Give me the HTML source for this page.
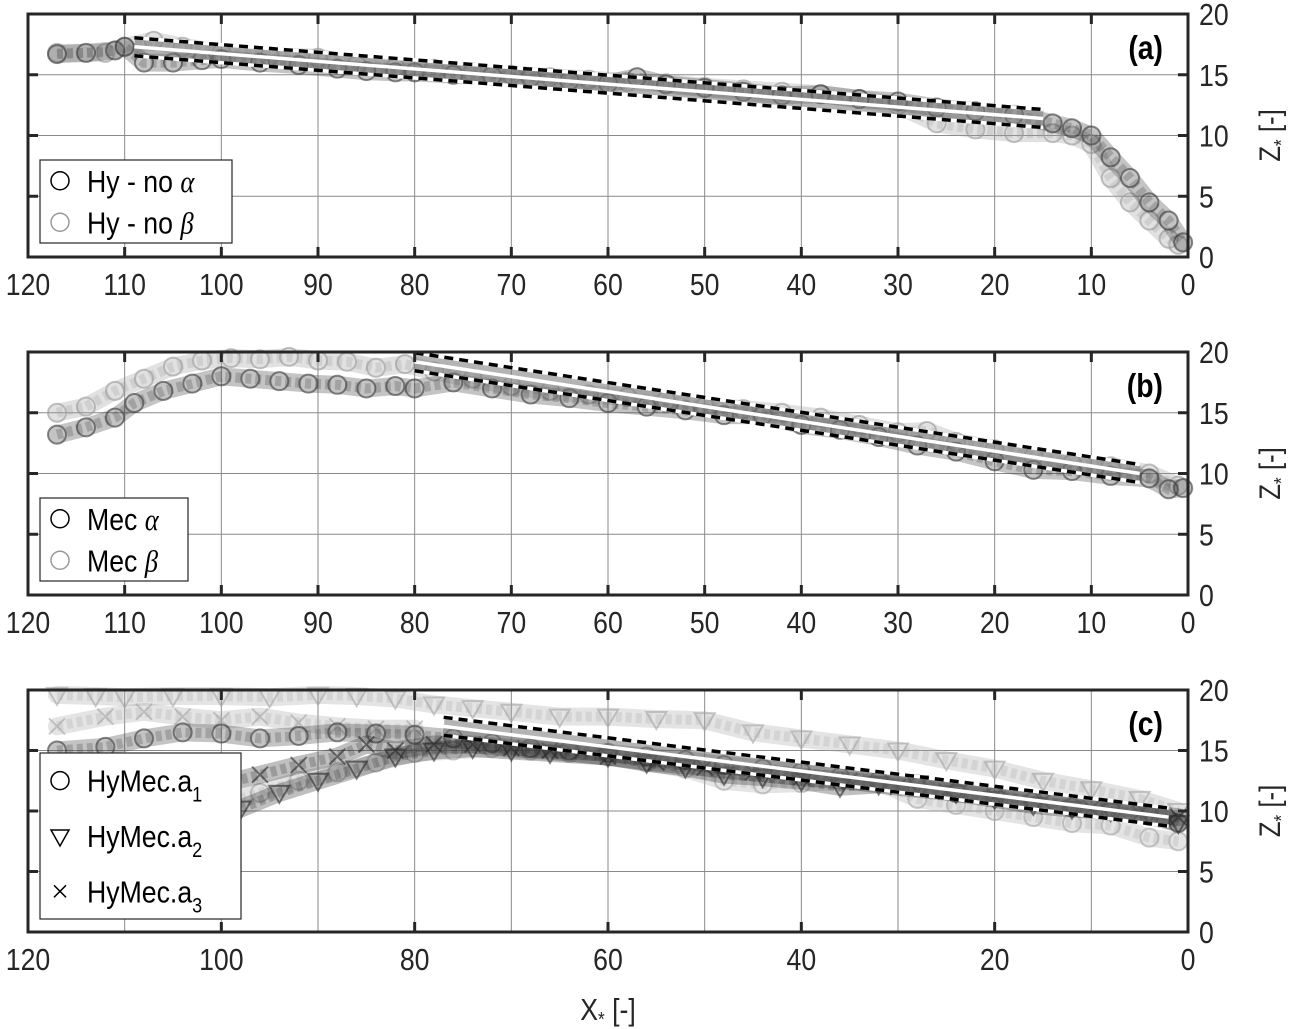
<!DOCTYPE html>
<html><head><meta charset="utf-8"><style>
html,body{margin:0;padding:0;background:#fff;}
svg{display:block;font-family:"Liberation Sans",Arial,sans-serif;}
</style></head><body>
<svg id="chart" width="1289" height="1029" viewBox="0 0 1289 1029" xmlns="http://www.w3.org/2000/svg">
</svg>
<script>
// ---- data ----
const xTicksAB = [120,110,100,90,80,70,60,50,40,30,20,10,0];
const xTicksC = [120,100,80,60,40,20,0];
const yTicks = [0,5,10,15,20];
// panel a
const aAlphaX = [117,114,111,110,108,105,102,100,96,92,88,85,82,80,76,72,68,64,60,57,54,50,46,42,38,34,30,26,22,18,14,12,10,8,6,4,2,0.5];
const aAlphaZ = [16.7,16.8,17.0,17.3,16.0,16.0,16.2,16.3,16.0,15.8,15.5,15.3,15.2,15.2,15.0,14.9,14.8,14.5,14.3,14.8,14.2,13.9,13.6,13.3,13.4,13.0,12.8,12.3,12.0,11.7,11.0,10.6,10.0,8.2,6.5,4.5,3.0,1.2];
const aBetaX = [117,112,110,107,104,100,95,90,86,82,78,74,70,66,62,58,54,50,46,42,38,34,30,26,22,18,14,12,10,8,6,4,2,1];
const aBetaZ = [16.8,16.8,17.3,17.8,17.3,16.8,16.5,16.4,15.8,15.6,15.5,15.2,15.0,14.8,14.6,14.4,14.3,14.0,13.8,13.6,13.4,13.0,12.5,11.0,10.5,10.2,10.2,10.0,9.3,6.5,4.5,3.0,1.5,1.0];
const aFitX = [109,15];
const aFitZ = [17.3,11.4];
// panel b
const bAlphaX = [117,114,111,109,106,103,100,97,94,91,88,85,82,80,76,72,68,64,60,56,52,48,44,40,36,32,28,24,20,16,12,8,4,2,0.5];
const bAlphaZ = [13.2,13.8,14.6,15.8,16.8,17.4,18.0,17.8,17.6,17.4,17.3,17.0,17.2,17.0,17.5,17.0,16.5,16.2,15.8,15.5,15.2,14.8,14.8,14.0,13.6,13.0,12.3,11.8,11.0,10.3,10.2,9.8,9.6,8.7,8.8];
const bBetaX = [117,114,111,108,105,102,99,96,93,90,87,84,81,78,74,70,66,62,58,54,50,46,42,38,34,30,27,24,20,16,12,8,4,1];
const bBetaZ = [15.0,15.5,16.8,17.8,18.8,19.3,19.5,19.4,19.6,19.3,19.2,18.7,19.0,18.4,17.8,17.2,16.8,16.5,16.3,16.0,15.5,15.3,15.0,14.6,14.0,13.4,13.5,12.6,12.0,11.4,10.8,10.6,10.0,9.0];
const bFitX = [80,5];
const bFitZ = [19.2,10.0];
// panel c
const cA1X = [117,112,108,104,100,96,92,88,84,80,76,72,68,64,60,56,52,48,44,40,36,32,28,24,20,16,12,8,4,1];
const cA1Z = [15.0,15.3,16.0,16.5,16.4,16.0,16.2,16.5,16.4,16.3,16.0,15.6,15.2,15.0,14.8,14.5,14.2,13.8,13.5,13.2,12.8,12.5,12.0,11.5,11.2,10.8,10.3,10.0,9.6,9.0];
const cA1bX = [100,96,92,88,84,80,76,72,68,64,60,56,52,48,44,40,36,32,28,24,20,16,12,8,4,1];
const cA1bZ = [10.5,11.5,12.5,13.2,14.0,14.8,15.0,15.2,15.0,14.8,14.5,14.0,13.5,12.5,12.2,12.3,12.5,12.4,11.0,10.5,10.0,9.5,9.0,8.8,7.8,7.5];
const cA2X = [117,113,110,105,100,95,90,86,82,78,74,70,65,60,55,50,45,40,35,30,25,20,15,10,5,1];
const cA2Z = [19.6,19.5,19.4,19.5,19.5,19.4,19.6,19.5,19.3,18.8,18.5,18.2,17.8,17.8,17.6,17.5,16.5,16.0,15.5,15.0,14.2,13.5,12.5,11.8,11.0,10.0];
const cA2bX = [103,98,94,90,86,82,78,74,70,66,60,56,52,48,44,40,36,32,28,24,20,16,12,8,4,1];
const cA2bZ = [9.0,10.2,11.5,12.5,13.5,14.5,15.0,15.2,15.0,14.8,14.5,14.0,13.6,13.0,12.8,12.5,12.0,12.2,12.3,11.5,11.0,10.5,10.2,10.0,9.8,9.0];
const cA3X = [117,112,108,104,100,96,92,88,84,80];
const cA3Z = [17.0,17.8,18.2,17.8,17.5,17.8,17.3,17.0,16.8,16.8];
const cA3bX = [105,100,96,92,88,85,82,78,74,70,66,60,55,50,45,40,35,30,25,20,15,10,5,1];
const cA3bZ = [11.5,12.2,13.0,13.8,14.5,15.5,15.0,15.5,15.5,15.2,15.0,14.5,14.0,13.6,13.2,12.8,12.5,12.0,11.6,11.2,10.8,10.2,9.8,9.5];
const cFitX = [77,2];
const cFitZ = [17.0,9.5];

// ---- layout ----
const NS = "http://www.w3.org/2000/svg";
const svg = document.getElementById('chart');
const L = 28, R = 1188;
const panels = [
  {top:14, bot:257, label:'(a)', ticks:xTicksAB, grid:[110,100,90,80,70,60,50,40,30,20,10]},
  {top:352, bot:595, label:'(b)', ticks:xTicksAB, grid:[110,100,90,80,70,60,50,40,30,20,10]},
  {top:690, bot:932, label:'(c)', ticks:xTicksC, grid:[110,100,90,80,70,60,50,40,30,20,10]}
];
function sx(x){ return R - (R - L) * x / 120; }
function syF(p){ return z => p.bot - (p.bot - p.top) * z / 20; }
function mk(tag, attrs, parent){
  const e = document.createElementNS(NS, tag);
  for (const k in attrs) e.setAttribute(k, attrs[k]);
  (parent || svg).appendChild(e);
  return e;
}
function ntext(x, y, size, anchor, parent, extra){
  const a = {x:0, y:0, 'font-size':size, 'text-anchor':anchor, fill:'#262626', transform:'translate('+x+','+y+') scale(0.86,1)'};
  if (extra) for (const k in extra) a[k] = extra[k];
  return mk('text', a, parent);
}

function drawAxes(p, i){
  const g = mk('g', {});
  
  
  const sy = syF(p);
  p.grid.forEach(v => {
    const gl = mk('line', {x1:sx(v), x2:sx(v), y1:p.top, y2:p.bot, stroke:'#8a8a8a', 'stroke-width':1}, g);
    
    
  });
  [5,10,15].forEach(v => {
    const gl = mk('line', {x1:L, x2:R, y1:sy(v), y2:sy(v), stroke:'#8a8a8a', 'stroke-width':1}, g);
    
    
  });
  return g;
}
function drawFrame(p, i){
  const sy = syF(p);
  const g = mk('g', {});
  
  
  mk('rect', {x:L, y:p.top, width:R-L, height:p.bot-p.top, fill:'none', stroke:'#262626', 'stroke-width':3}, g);
  p.ticks.forEach(v => {
    const x = sx(v);
    mk('line', {x1:x, x2:x, y1:p.bot, y2:p.bot-10, stroke:'#262626', 'stroke-width':3}, g);
    mk('line', {x1:x, x2:x, y1:p.top, y2:p.top+10, stroke:'#262626', 'stroke-width':3}, g);
    const t = ntext(x, p.bot+38, 31, 'middle', g);
    t.textContent = v;
    
    
  });
  yTicks.forEach(v => {
    const y = sy(v);
    mk('line', {x1:R, x2:R-10, y1:y, y2:y, stroke:'#262626', 'stroke-width':3}, g);
    mk('line', {x1:L, x2:L+10, y1:y, y2:y, stroke:'#262626', 'stroke-width':3}, g);
    const t = ntext(1199, y+11, 31, 'start', g);
    t.textContent = v;
    
    
  });
  const cy = (p.top + p.bot) / 2;
  const yl = mk('text', {x:0, y:0, 'font-size':30, fill:'#262626', 'text-anchor':'middle', transform:'translate(1280,'+cy+') rotate(-90) scale(0.86,1)'}, g);
  yl.innerHTML = 'Z<tspan font-size="20" dy="8">*</tspan><tspan dy="-8"> [-]</tspan>';
  
  
  const pl = ntext(1163, p.top+45, 33, 'end', g, {'font-weight':'bold', fill:'#000'});
  pl.textContent = p.label;
  
  
}

function marker(type, x, y, col, g){
  if (type === 'o') return mk('circle', {cx:x, cy:y, r:9, fill:'none', stroke:col, 'stroke-width':2, 'stroke-opacity':0.6}, g);
  if (type === 'v') return mk('path', {d:'M'+(x-10)+','+(y-7)+' L'+(x+10)+','+(y-7)+' L'+x+','+(y+10)+' Z', fill:'none', stroke:col, 'stroke-width':2, 'stroke-opacity':0.6}, g);
  return mk('path', {d:'M'+(x-8)+','+(y-8)+' L'+(x+8)+','+(y+8)+' M'+(x+8)+','+(y-8)+' L'+(x-8)+','+(y+8), stroke:col, 'stroke-width':2, 'stroke-opacity':0.6}, g);
}
function series(p, xs, zs, type, col, name){
  const sy = syF(p);
  const g = mk('g', {});
  
  
  const pts = xs.map((x,i) => sx(x)+','+sy(zs[i])).join(' ');
  mk('polyline', {points:pts, fill:'none', stroke:col, 'stroke-width':18, 'stroke-opacity':0.3, 'stroke-linejoin':'round', 'stroke-linecap':'round'}, g);
  mk('polyline', {points:pts, fill:'none', stroke:col, 'stroke-width':10, 'stroke-opacity':0.25, 'stroke-dasharray':'6 4'}, g);
  xs.forEach((x,i) => {
    const m = marker(type, sx(x), sy(zs[i]), col, g);
    
    
  });
}
function fit(p, fx, fz, name){
  const sy = syF(p);
  const g = mk('g', {});
  
  
  const x1 = sx(fx[0]), x2 = sx(fx[1]), y1 = sy(fz[0]), y2 = sy(fz[1]);
  mk('line', {x1, x2, y1, y2, stroke:'#777', 'stroke-width':16, 'stroke-opacity':0.55}, g);
  mk('line', {x1, x2, y1, y2, stroke:'#fff', 'stroke-width':3.5}, g);
  [-9, 9].forEach(d => {
    mk('line', {x1, x2, y1:y1+d, y2:y2+d, stroke:'#fff', 'stroke-width':3.5}, g);
    mk('line', {x1, x2, y1:y1+d, y2:y2+d, stroke:'#000', 'stroke-width':3.5, 'stroke-dasharray':'9 6'}, g);
  });
}
function legend(x, y, w, h, entries, i){
  const g = mk('g', {});
  
  
  mk('rect', {x, y, width:w, height:h, fill:'#fff', stroke:'#262626', 'stroke-width':1.2}, g);
  const step = h / entries.length;
  entries.forEach((e, k) => {
    const cy = y + step*(k+0.5);
    const eg = mk('g', {}, g);
    
    
    if (e.t === 'o') mk('circle', {cx:x+20, cy:cy, r:9, fill:'none', stroke:e.c, 'stroke-width':1.5}, eg);
    else if (e.t === 'v') mk('path', {d:'M'+(x+11)+','+(cy-6)+' L'+(x+29)+','+(cy-6)+' L'+(x+20)+','+(cy+10)+' Z', fill:'none', stroke:e.c, 'stroke-width':1.5}, eg);
    else mk('path', {d:'M'+(x+14)+','+(cy-6)+' L'+(x+26)+','+(cy+6)+' M'+(x+26)+','+(cy-6)+' L'+(x+14)+','+(cy+6), stroke:e.c, 'stroke-width':1.5}, eg);
    const t = ntext(x+47, cy+11, 31, 'start', eg, {fill:'#000'});
    t.innerHTML = e.html;
  });
}

// panel a
let p = panels[0];
drawAxes(p, 0);
series(p, aBetaX, aBetaZ, 'o', '#9a9a9a', 'series-hy-no-beta');
series(p, aAlphaX, aAlphaZ, 'o', '#3a3a3a', 'series-hy-no-alpha');
fit(p, aFitX, aFitZ, 'fit-line-a');
drawFrame(p, 0);
legend(40, 160, 192, 83, [
  {t:'o', c:'#000', html:'Hy - no <tspan font-family="Liberation Serif" font-style="italic">α</tspan>'},
  {t:'o', c:'#999', html:'Hy - no <tspan font-family="Liberation Serif" font-style="italic">β</tspan>'}], 0);

// panel b
p = panels[1];
drawAxes(p, 1);
series(p, bBetaX, bBetaZ, 'o', '#9a9a9a', 'series-mec-beta');
series(p, bAlphaX, bAlphaZ, 'o', '#3a3a3a', 'series-mec-alpha');
fit(p, bFitX, bFitZ, 'fit-line-b');
drawFrame(p, 1);
legend(40, 498, 148, 83, [
  {t:'o', c:'#000', html:'Mec <tspan font-family="Liberation Serif" font-style="italic">α</tspan>'},
  {t:'o', c:'#999', html:'Mec <tspan font-family="Liberation Serif" font-style="italic">β</tspan>'}], 1);

// panel c
p = panels[2];
drawAxes(p, 2);
series(p, cA2X, cA2Z, 'v', '#a5a5a5', 'series-hymec-a2-light');
series(p, cA3X, cA3Z, 'x', '#a5a5a5', 'series-hymec-a3-light');
series(p, cA1bX, cA1bZ, 'o', '#a5a5a5', 'series-hymec-a1-light');
series(p, cA1X, cA1Z, 'o', '#3a3a3a', 'series-hymec-a1');
series(p, cA2bX, cA2bZ, 'v', '#2a2a2a', 'series-hymec-a2');
series(p, cA3bX, cA3bZ, 'x', '#2a2a2a', 'series-hymec-a3');
fit(p, cFitX, cFitZ, 'fit-line-c');
drawFrame(p, 2);
legend(40, 753, 201, 166, [
  {t:'o', c:'#000', html:'HyMec.a<tspan font-size="21" dy="10">1</tspan>'},
  {t:'v', c:'#000', html:'HyMec.a<tspan font-size="21" dy="10">2</tspan>'},
  {t:'x', c:'#000', html:'HyMec.a<tspan font-size="21" dy="10">3</tspan>'}], 2);

const xt = mk('text', {x:0, y:0, 'font-size':31, 'text-anchor':'middle', fill:'#262626', transform:'translate(608,1020) scale(0.86,1)'});
xt.innerHTML = 'X<tspan font-size="20" dy="6">*</tspan><tspan dy="-6"> [-]</tspan>';


</script>
</body></html>
